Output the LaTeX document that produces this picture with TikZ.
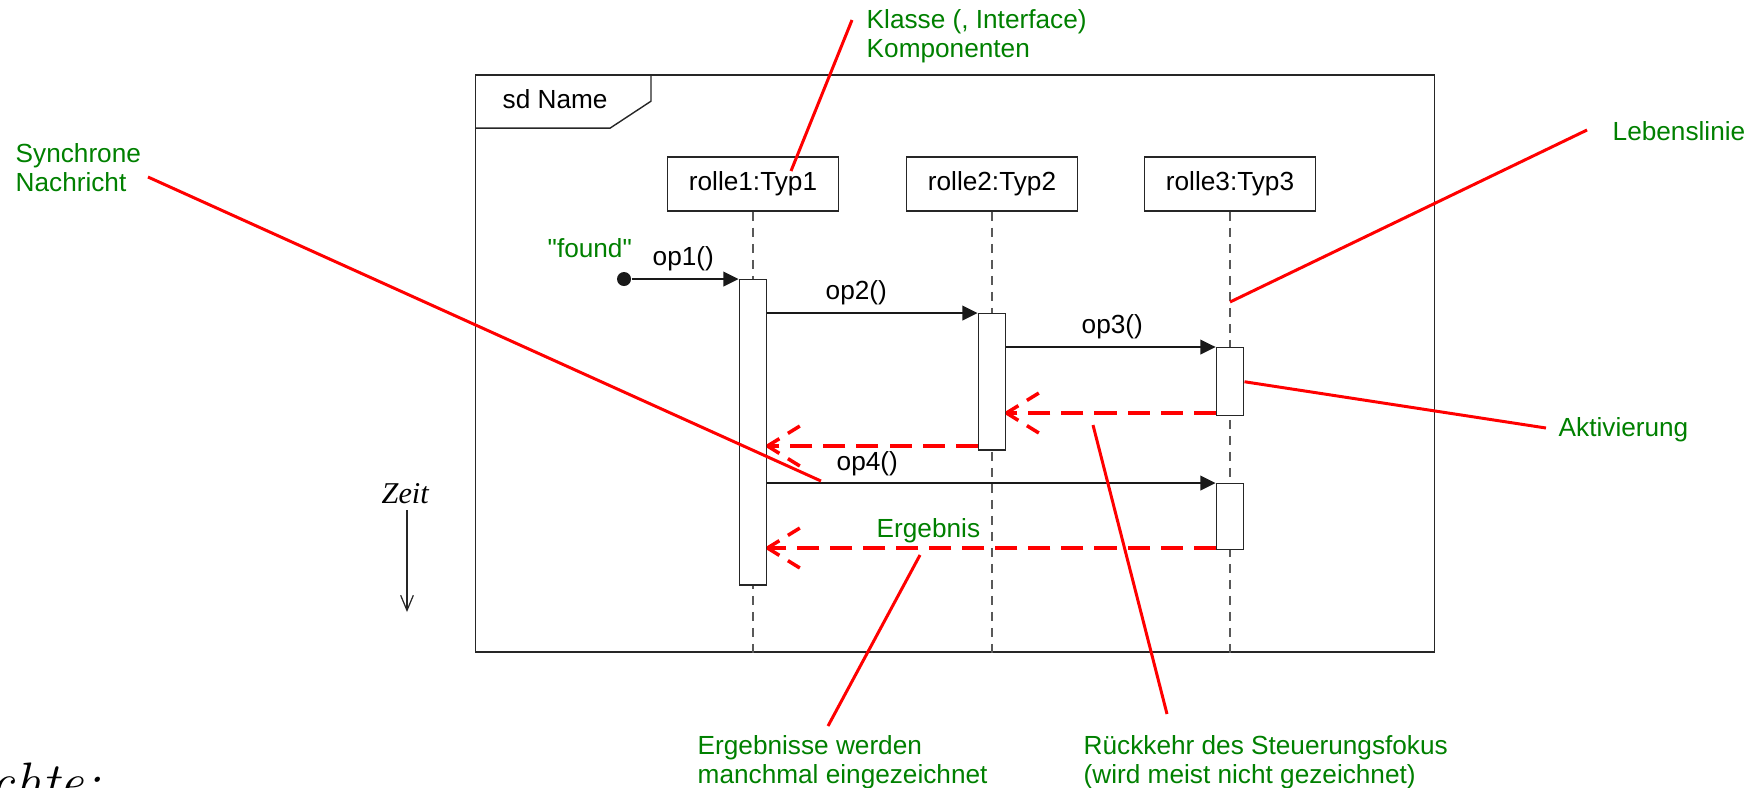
\documentclass[tikz,border=0pt]{standalone}
\usepackage{fontspec}
\setsansfont{Liberation Sans}[Ligatures=TeXOff]
\newfontfamily\zeitfont{Liberation Serif}
\usetikzlibrary{arrows.meta,calc}
\definecolor{notegreen}{RGB}{0,128,0}
\newcommand\diafont{\sffamily\fontsize{7.45}{8.1}\selectfont}
\def\roles{{(753,184)/r1/rolle1:Typ1}, {(992,184)/r2/rolle2:Typ2}, {(1230,184)/r3/rolle3:Typ3}}
\def\activations{{(753,279)/a1/3.05}, {(992,313)/a2/1.36}, {(1230,347)/a3/0.68}, {(1230,483)/a4/0.66}}
\def\calls{{a1/a2/(825,299)/op2()}, {a2/a3/(1081,333)/op3()}, {a1/a4/(836,470)/op4()}}
\def\replies{a3/a2/413, a2/a1/446, a4/a1/548}
\def\pointers{syn, klasse, leben, erg, rueck}
\tikzstyle{sdframe}=[draw, black!85, minimum width=9.58cm, minimum height=5.77cm, inner sep=0pt]
\tikzstyle{role}=[draw, black!85, fill=white, text=black, minimum width=1.71cm, minimum height=0.54cm, inner sep=0pt, font=\diafont]
\tikzstyle{activation}=[draw, black!85, fill=white, anchor=north, minimum width=0.275cm, inner sep=0pt]
\tikzstyle{lifeline}=[draw, black!65, dash pattern=on 0.09cm off 0.07cm]
\tikzstyle{found dot}=[circle, fill=black!90, minimum size=0.14cm, inner sep=0pt]
\tikzstyle{sync}=[draw, black!90, line width=0.35pt, -{Triangle[length=4.3pt,width=4.2pt]}]
\tikzstyle{reply}=[draw, red, line width=1pt, dash pattern=on 0.22cm off 0.11cm]
\tikzstyle{reply arm}=[draw, red, line width=1pt, dash pattern=on 0.14cm off 0.1cm]
\tikzstyle{pointer}=[draw, red, line width=0.85pt]
\tikzstyle{msgtext}=[inner sep=0pt, anchor=base west, font=\diafont]
\tikzstyle{note}=[inner sep=0pt, anchor=base west, align=left, text=notegreen, font=\diafont]
\tikzstyle{timeline}=[draw, black!85, line width=0.35pt, -{Straight Barb[length=4.3pt,width=3.6pt]}]

\begin{document}
\begin{tikzpicture}[x=0.01cm, y=-0.01cm]
  \useasboundingbox (0,0) rectangle (1755,787);

  % The frame and its tag
  \node[sdframe] (frame) at (955,363.5) {};
  \draw[black!85] ([yshift=-0.54cm]frame.north west) -- ++(135,0) -- ++(41,-27) -- ++(0,-27);
  \node[msgtext] (sdname) at (502,108) {sd Name};

  % Heads and lifelines
  \foreach \pos/\name/\txt in \roles {
    \node[role] (\name) at \pos {\txt};
    \path[lifeline] (\name.south) -- (\name.south |- frame.south);
    }

  \foreach \pos/\name/\len in \activations {
    \node[activation, minimum height=\len cm] (\name) at \pos {};
    }

  % The found message
  \node[found dot] (found) at (624,279) {};
  \node[note] (foundtext) at (547,257) {"found"};
  \path[sync] (found) -- (a1.north west);
  \node[msgtext] (a1-op) at (652,265) {op1()};

  % Calls
  \foreach \src/\dst/\pos/\txt in \calls {
    \path[sync] (\src.east |- \dst.north) -- (\dst.north west);
    \node[msgtext] (\dst-op) at \pos {\txt};
    }

  % Replies, with their open heads
  \foreach \src/\dst/\yy in \replies {
    \coordinate (\src-\dst-tip) at (\dst.east |- 0,\yy);
    \path[reply] (\src.west |- 0,\yy) -- (\src-\dst-tip);
    \path[reply arm] (\src-\dst-tip) -- ($(\src-\dst-tip)+(34,-21)$);
    \path[reply arm] (\src-\dst-tip) -- ($(\src-\dst-tip)+(34,21)$);
    }
  \node[note] (ergebnis) at (876,537) {Ergebnis};

  % Time
  \node[inner sep=0pt, anchor=base west, font=\zeitfont\fontsize{8.6}{10}\selectfont\itshape] (zeit) at (381,503) {Zeit};
  \coordinate (zeit-top) at (407,510);
  \coordinate (zeit-end) at (407,612);
  \path[timeline] (zeit-top) -- (zeit-end);

  \node[inner sep=0pt, anchor=base east, font=\fontsize{15.4}{18}\selectfont\itshape] (cut) at (101,800) {chte:};

  % Notes (multi-line ones sit on their last line)
  \node[note] (syn) at (15,191) {Synchrone\\Nachricht};
  \node[note] (klasse) at (866,57) {Klasse (, Interface)\\Komponenten};
  \node[note] (leben) at (1612,140) {Lebenslinie};
  \node[note] (akt) at (1558,436) {Aktivierung};
  \node[note] (erg) at (697,783) {Ergebnisse werden\\manchmal eingezeichnet};
  \node[note] (rueck) at (1083,783) {Rückkehr des Steuerungsfokus\\(wird meist nicht gezeichnet)};

  \coordinate (syn-p) at (148,177);
  \coordinate (syn-q) at (821,481);
  \coordinate (klasse-p) at (852,20);
  \coordinate (klasse-q) at (791,171);
  \coordinate (leben-p) at (1587,130);
  \coordinate (leben-q) at (r3.south |- 0,302);
  \coordinate (erg-p) at (828,726);
  \coordinate (erg-q) at (920,555);
  \coordinate (rueck-p) at (1167,714);
  \coordinate (rueck-q) at (1093,425);

  % Red pointers
  \foreach \name in \pointers {
    \path[pointer] (\name-p) -- (\name-q);
    }
  \path[pointer] (1546,428) -- (a3.east);
\end{tikzpicture}
\end{document}
